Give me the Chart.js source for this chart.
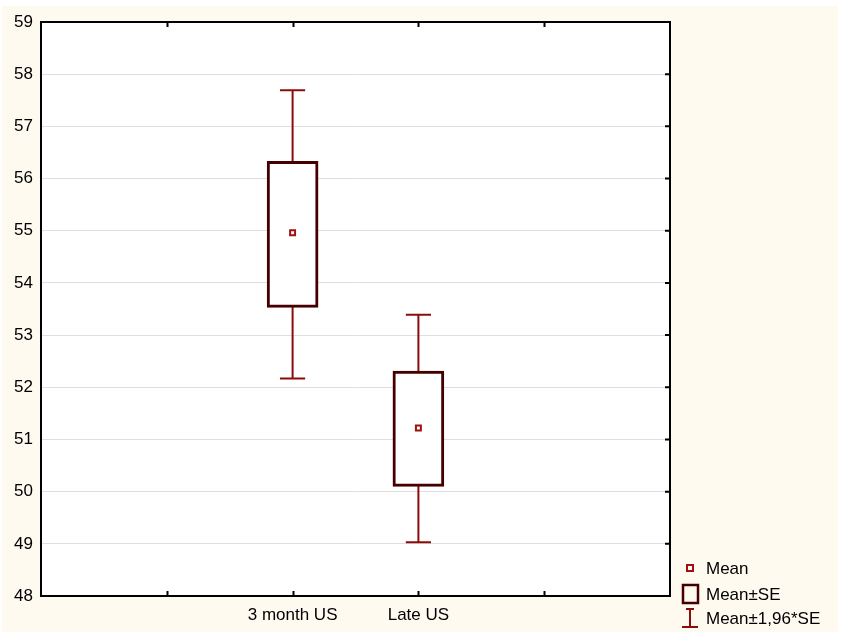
<!DOCTYPE html>
<html>
<head>
<meta charset="utf-8">
<script src="https://cdn.jsdelivr.net/npm/chart.js@4.4.1/dist/chart.umd.min.js"></script>
<style>
  body { margin: 0; background: #ffffff; }
  canvas { display: block; }
</style>
</head>
<body>
<canvas id="myChart" width="842" height="635"></canvas>
<script>
// data
const categories = ['3 month US', 'Late US'];
const catPos = [2, 3];
const means = [54.96, 51.22];
const seLow = [53.53, 50.10];
const seHigh = [56.33, 52.31];
const ciLow = [52.17, 49.03];
const ciHigh = [57.69, 53.39];
const legendLabels = ['Mean', 'Mean±SE', 'Mean±1,96*SE'];

const whiskerColor = '#8c0c0c'
const boxColor = '#440000'
const meanColor = '#a01010'
const fontFamily = 'Arial, "Liberation Sans", sans-serif'

const ctx = document.querySelector('#myChart').getContext('2d')

// cream page, white plot area
const background = {
  id: 'background',
  beforeDraw: (chart) => {
    const { ctx, chartArea } = chart;
    ctx.save();
    ctx.fillStyle = '#ffffff';
    ctx.fillRect(0, 0, chart.width, chart.height);
    ctx.fillStyle = '#fffaf0';
    ctx.fillRect(2, 6, 836, 626);
    ctx.fillStyle = '#ffffff';
    ctx.fillRect(chartArea.left, chartArea.top, chartArea.width, chartArea.height);
    ctx.restore();
  }
};

// whiskers behind the boxes
const whiskers = {
  id: 'whiskers',
  beforeDatasetsDraw: (chart) => {
    const { ctx } = chart;
    const xs = chart.scales.x, ys = chart.scales.y;
    const cap = xs.getPixelForValue(0.1) - xs.getPixelForValue(0);
    ctx.save();
    ctx.strokeStyle = whiskerColor;
    ctx.lineWidth = 2;
    catPos.forEach((pos, i) => {
      const x = xs.getPixelForValue(pos);
      const lo = ys.getPixelForValue(ciLow[i]);
      const hi = ys.getPixelForValue(ciHigh[i]);
      ctx.beginPath();
      ctx.moveTo(x, lo); ctx.lineTo(x, hi);
      ctx.moveTo(x - cap, lo); ctx.lineTo(x + cap, lo);
      ctx.moveTo(x - cap, hi); ctx.lineTo(x + cap, hi);
      ctx.stroke();
    });
    ctx.restore();
  }
};

// frame with inward ticks + legend
const frame = {
  id: 'frame',
  afterDraw: (chart) => {
    const { ctx, chartArea } = chart;
    const { left, right, top, bottom } = chartArea;
    const xs = chart.scales.x, ys = chart.scales.y;
    ctx.save();
    ctx.strokeStyle = '#000000';
    ctx.lineWidth = 2;
    ctx.beginPath();
    xs.ticks.forEach(t => {
      if (t.value <= xs.min || t.value >= xs.max) return;
      const x = Math.round(xs.getPixelForValue(t.value)) + 0.5;
      ctx.moveTo(x, top); ctx.lineTo(x, top + 5);
      ctx.moveTo(x, bottom); ctx.lineTo(x, bottom - 5);
    });
    ys.ticks.forEach(t => {
      if (t.value <= ys.min || t.value >= ys.max) return;
      const y = ys.getPixelForValue(t.value);
      ctx.moveTo(right, y); ctx.lineTo(right - 5, y);
    });
    ctx.stroke();
    ctx.strokeRect(left, top, right - left, bottom - top);

    // legend
    const lx = 690, tx = 706;
    const rows = [568, 594, 618];
    ctx.strokeStyle = meanColor;
    ctx.lineWidth = 2;
    ctx.strokeRect(lx - 3, rows[0] - 3, 6, 6);
    ctx.strokeStyle = boxColor;
    ctx.lineWidth = 2.5;
    ctx.strokeRect(lx - 7, rows[1] - 9, 15, 18);
    ctx.strokeStyle = whiskerColor;
    ctx.lineWidth = 2;
    ctx.beginPath();
    ctx.moveTo(lx, rows[2] - 9); ctx.lineTo(lx, rows[2] + 9);
    ctx.moveTo(lx - 4, rows[2] - 9); ctx.lineTo(lx + 4, rows[2] - 9);
    ctx.moveTo(lx - 8, rows[2] + 9); ctx.lineTo(lx + 8, rows[2] + 9);
    ctx.stroke();
    ctx.fillStyle = '#000000';
    ctx.font = '17px ' + fontFamily;
    ctx.textBaseline = 'middle';
    legendLabels.forEach((l, i) => ctx.fillText(l, tx, rows[i] + 1));
    ctx.restore();
  }
};

const data = {
  datasets: [{
    type: 'scatter',
    label: legendLabels[0],
    data: catPos.map((x, i) => ({ x, y: means[i] })),
    pointStyle: 'rect',
    pointRadius: 3.5,
    pointBorderWidth: 2,
    pointBackgroundColor: '#ffffff',
    pointBorderColor: meanColor,
    order: 0
  },
  {
    type: 'bar',
    label: legendLabels[1],
    data: catPos.map((x, i) => ({ x, y: [seLow[i], seHigh[i]] })),
    backgroundColor: '#ffffff',
    borderColor: boxColor,
    borderWidth: 3,
    borderSkipped: false,
    barThickness: 51,
    order: 1
  }]
};

const config = {
  type: 'bar',
  data: data,
  plugins: [background, whiskers, frame],
  options: {
    responsive: false,
    animation: false,
    layout: { padding: { top: 22, right: 172, left: 0, bottom: 0 } },
    plugins: {
      legend: { display: false },
      tooltip: { enabled: false }
    },
    scales: {
      x: {
        type: 'linear',
        min: 0,
        max: 5,
        offset: false,
        afterFit: (scale) => { scale.height = 39 },
        grid: { display: false, drawTicks: false, offset: false },
        border: { display: false },
        ticks: {
          stepSize: 1,
          padding: 9,
          color: '#000000',
          font: { family: fontFamily, size: 17 },
          callback: (value) => {
            const i = catPos.indexOf(value);
            return i >= 0 ? categories[i] : '';
          }
        }
      },
      y: {
        min: 48,
        max: 59,
        afterFit: (scale) => { scale.width = 41 },
        grid: { color: '#dedede', lineWidth: 1, drawTicks: false },
        border: { display: false },
        ticks: {
          stepSize: 1,
          padding: 8,
          color: '#000000',
          font: { family: fontFamily, size: 17 }
        }
      }
    }
  }
};

const myChart = new Chart(ctx, config);
</script>
</body>
</html>
